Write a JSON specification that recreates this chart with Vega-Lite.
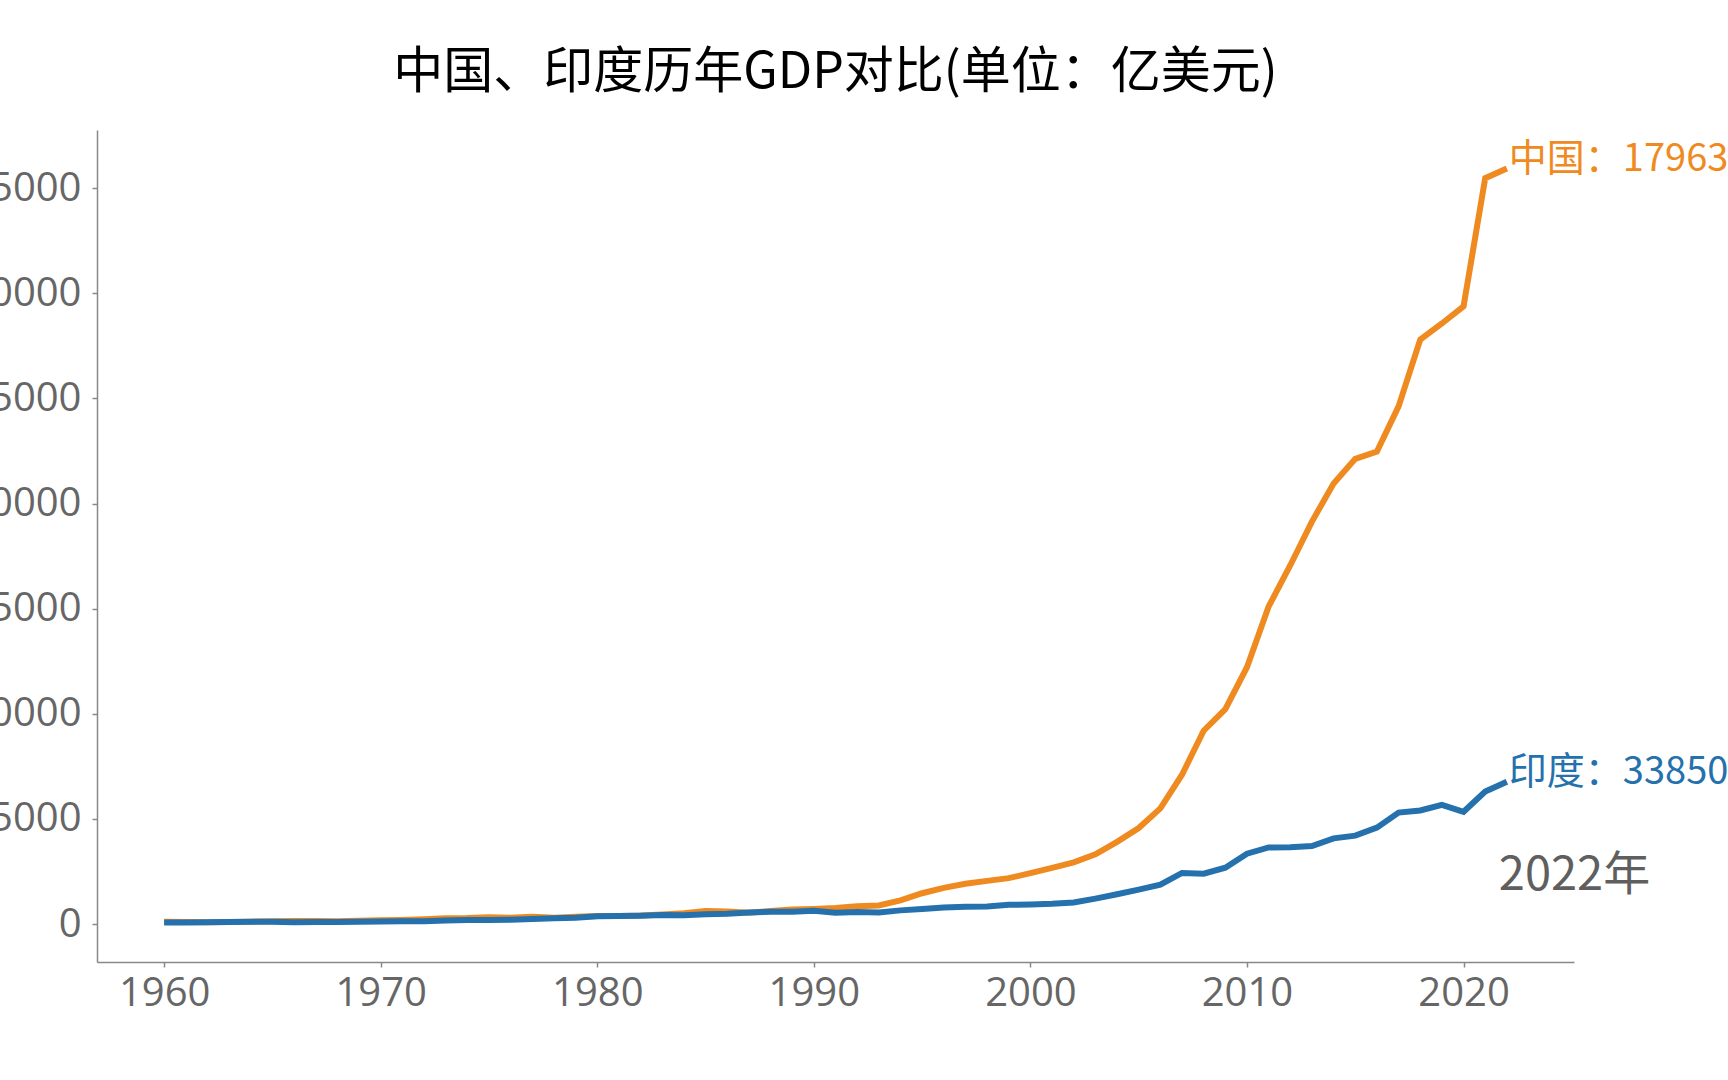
{
  "$schema": "https://vega.github.io/schema/vega-lite/v6.json",
  "autosize": {"type": "none"},
  "width": 1477,
  "height": 832,
  "padding": {"left": 97, "top": 130, "right": 154, "bottom": 118},
  "background": "white",
  "config": {
    "view": {"stroke": null},
    "axis": {
      "grid": false,
      "domainColor": "#888888",
      "domainWidth": 1.5,
      "tickColor": "#888888",
      "tickSize": 5,
      "tickWidth": 1.5,
      "labelColor": "#666666",
      "labelFont": "Open Sans",
      "labelFontSize": 40,
      "title": null
    }
  },
  "title": {
    "text": "中国、印度历年GDP对比(单位：亿美元)",
    "font": "Noto Sans CJK SC",
    "fontSize": 50,
    "fontWeight": "normal",
    "color": "#000000",
    "anchor": "middle",
    "baseline": "alphabetic",
    "offset": 41,
    "dy": 49
  },
  "datasets": {
    "gdp": [
      {"country": "中国", "year": 1960, "gdp": 597.2},
      {"country": "中国", "year": 1961, "gdp": 500.6},
      {"country": "中国", "year": 1962, "gdp": 472.1},
      {"country": "中国", "year": 1963, "gdp": 507.1},
      {"country": "中国", "year": 1964, "gdp": 594.5},
      {"country": "中国", "year": 1965, "gdp": 704.4},
      {"country": "中国", "year": 1966, "gdp": 767.2},
      {"country": "中国", "year": 1967, "gdp": 720.6},
      {"country": "中国", "year": 1968, "gdp": 699.9},
      {"country": "中国", "year": 1969, "gdp": 786.7},
      {"country": "中国", "year": 1970, "gdp": 926.0},
      {"country": "中国", "year": 1971, "gdp": 998.0},
      {"country": "中国", "year": 1972, "gdp": 1136.9},
      {"country": "中国", "year": 1973, "gdp": 1384.2},
      {"country": "中国", "year": 1974, "gdp": 1441.9},
      {"country": "中国", "year": 1975, "gdp": 1634.3},
      {"country": "中国", "year": 1976, "gdp": 1539.4},
      {"country": "中国", "year": 1977, "gdp": 1749.4},
      {"country": "中国", "year": 1978, "gdp": 1495.4},
      {"country": "中国", "year": 1979, "gdp": 1782.8},
      {"country": "中国", "year": 1980, "gdp": 1911.5},
      {"country": "中国", "year": 1981, "gdp": 1958.7},
      {"country": "中国", "year": 1982, "gdp": 2050.9},
      {"country": "中国", "year": 1983, "gdp": 2306.9},
      {"country": "中国", "year": 1984, "gdp": 2599.5},
      {"country": "中国", "year": 1985, "gdp": 3094.9},
      {"country": "中国", "year": 1986, "gdp": 3007.6},
      {"country": "中国", "year": 1987, "gdp": 2729.7},
      {"country": "中国", "year": 1988, "gdp": 3123.5},
      {"country": "中国", "year": 1989, "gdp": 3477.7},
      {"country": "中国", "year": 1990, "gdp": 3609.6},
      {"country": "中国", "year": 1991, "gdp": 3834.0},
      {"country": "中国", "year": 1992, "gdp": 4269.2},
      {"country": "中国", "year": 1993, "gdp": 4447.3},
      {"country": "中国", "year": 1994, "gdp": 5643.2},
      {"country": "中国", "year": 1995, "gdp": 7345.5},
      {"country": "中国", "year": 1996, "gdp": 8637.5},
      {"country": "中国", "year": 1997, "gdp": 9616.0},
      {"country": "中国", "year": 1998, "gdp": 10290.4},
      {"country": "中国", "year": 1999, "gdp": 10939.9},
      {"country": "中国", "year": 2000, "gdp": 12113.5},
      {"country": "中国", "year": 2001, "gdp": 13393.9},
      {"country": "中国", "year": 2002, "gdp": 14705.5},
      {"country": "中国", "year": 2003, "gdp": 16602.9},
      {"country": "中国", "year": 2004, "gdp": 19553.5},
      {"country": "中国", "year": 2005, "gdp": 22859.7},
      {"country": "中国", "year": 2006, "gdp": 27521.3},
      {"country": "中国", "year": 2007, "gdp": 35521.8},
      {"country": "中国", "year": 2008, "gdp": 45981.8},
      {"country": "中国", "year": 2009, "gdp": 51097.2},
      {"country": "中国", "year": 2010, "gdp": 61087.2},
      {"country": "中国", "year": 2011, "gdp": 75515.0},
      {"country": "中国", "year": 2012, "gdp": 85322.3},
      {"country": "中国", "year": 2013, "gdp": 95704.1},
      {"country": "中国", "year": 2014, "gdp": 104756.8},
      {"country": "中国", "year": 2015, "gdp": 110616.2},
      {"country": "中国", "year": 2016, "gdp": 112333.2},
      {"country": "中国", "year": 2017, "gdp": 123104.1},
      {"country": "中国", "year": 2018, "gdp": 138948.1},
      {"country": "中国", "year": 2019, "gdp": 142799.6},
      {"country": "中国", "year": 2020, "gdp": 146876.9},
      {"country": "中国", "year": 2021, "gdp": 177340.6},
      {"country": "中国", "year": 2022, "gdp": 179632.0},
      {"country": "印度", "year": 1960, "gdp": 370.3},
      {"country": "印度", "year": 1961, "gdp": 392.3},
      {"country": "印度", "year": 1962, "gdp": 421.6},
      {"country": "印度", "year": 1963, "gdp": 484.2},
      {"country": "印度", "year": 1964, "gdp": 564.8},
      {"country": "印度", "year": 1965, "gdp": 594.5},
      {"country": "印度", "year": 1966, "gdp": 459.6},
      {"country": "印度", "year": 1967, "gdp": 500.3},
      {"country": "印度", "year": 1968, "gdp": 530.9},
      {"country": "印度", "year": 1969, "gdp": 584.5},
      {"country": "印度", "year": 1970, "gdp": 624.2},
      {"country": "印度", "year": 1971, "gdp": 673.5},
      {"country": "印度", "year": 1972, "gdp": 711.6},
      {"country": "印度", "year": 1973, "gdp": 855.2},
      {"country": "印度", "year": 1974, "gdp": 991.3},
      {"country": "印度", "year": 1975, "gdp": 988.7},
      {"country": "印度", "year": 1976, "gdp": 1029.8},
      {"country": "印度", "year": 1977, "gdp": 1214.9},
      {"country": "印度", "year": 1978, "gdp": 1373.0},
      {"country": "印度", "year": 1979, "gdp": 1529.9},
      {"country": "印度", "year": 1980, "gdp": 1863.3},
      {"country": "印度", "year": 1981, "gdp": 1936.5},
      {"country": "印度", "year": 1982, "gdp": 2007.2},
      {"country": "印度", "year": 1983, "gdp": 2185.4},
      {"country": "印度", "year": 1984, "gdp": 2124.4},
      {"country": "印度", "year": 1985, "gdp": 2325.1},
      {"country": "印度", "year": 1986, "gdp": 2488.0},
      {"country": "印度", "year": 1987, "gdp": 2795.8},
      {"country": "印度", "year": 1988, "gdp": 2963.9},
      {"country": "印度", "year": 1989, "gdp": 2960.4},
      {"country": "印度", "year": 1990, "gdp": 3209.8},
      {"country": "印度", "year": 1991, "gdp": 2701.1},
      {"country": "印度", "year": 1992, "gdp": 2881.8},
      {"country": "印度", "year": 1993, "gdp": 2791.0},
      {"country": "印度", "year": 1994, "gdp": 3272.8},
      {"country": "印度", "year": 1995, "gdp": 3602.8},
      {"country": "印度", "year": 1996, "gdp": 3928.9},
      {"country": "印度", "year": 1997, "gdp": 4158.7},
      {"country": "印度", "year": 1998, "gdp": 4213.5},
      {"country": "印度", "year": 1999, "gdp": 4588.2},
      {"country": "印度", "year": 2000, "gdp": 4683.9},
      {"country": "印度", "year": 2001, "gdp": 4851.4},
      {"country": "印度", "year": 2002, "gdp": 5149.4},
      {"country": "印度", "year": 2003, "gdp": 6077.0},
      {"country": "印度", "year": 2004, "gdp": 7091.5},
      {"country": "印度", "year": 2005, "gdp": 8203.8},
      {"country": "印度", "year": 2006, "gdp": 9402.6},
      {"country": "印度", "year": 2007, "gdp": 12167.4},
      {"country": "印度", "year": 2008, "gdp": 11989.0},
      {"country": "印度", "year": 2009, "gdp": 13419.0},
      {"country": "印度", "year": 2010, "gdp": 16756.2},
      {"country": "印度", "year": 2011, "gdp": 18230.5},
      {"country": "印度", "year": 2012, "gdp": 18276.4},
      {"country": "印度", "year": 2013, "gdp": 18567.2},
      {"country": "印度", "year": 2014, "gdp": 20391.3},
      {"country": "印度", "year": 2015, "gdp": 21035.9},
      {"country": "印度", "year": 2016, "gdp": 22947.9},
      {"country": "印度", "year": 2017, "gdp": 26515.0},
      {"country": "印度", "year": 2018, "gdp": 27026.9},
      {"country": "印度", "year": 2019, "gdp": 28355.6},
      {"country": "印度", "year": 2020, "gdp": 26717.3},
      {"country": "印度", "year": 2021, "gdp": 31502.9},
      {"country": "印度", "year": 2022, "gdp": 33851.3}
    ],
    "labels": [
      {"country": "中国", "year": 2022, "gdp": 179632.0, "label": "中国：179632"},
      {"country": "印度", "year": 2022, "gdp": 33851.3, "label": "印度：33850"}
    ]
  },
  "layer": [
    {
      "data": {"name": "gdp"},
      "mark": {"type": "line", "strokeWidth": 6, "strokeJoin": "miter", "strokeCap": "butt"},
      "encoding": {
        "x": {
          "field": "year", "type": "quantitative",
          "scale": {"domain": [1956.9, 2025.1], "nice": false, "zero": false},
          "axis": {"values": [1960, 1970, 1980, 1990, 2000, 2010, 2020], "format": "d", "labelPadding": 6}
        },
        "y": {
          "field": "gdp", "type": "quantitative",
          "scale": {"domain": [-9000, 188800], "nice": false, "zero": false},
          "axis": {"values": [0, 25000, 50000, 75000, 100000, 125000, 150000, 175000], "format": "d", "labelPadding": 11}
        },
        "color": {
          "field": "country", "type": "nominal",
          "scale": {"domain": ["中国", "印度"], "range": ["#ef8a20", "#2471ad"]},
          "legend": null
        }
      }
    },
    {
      "data": {"name": "labels"},
      "mark": {"type": "text", "align": "left", "baseline": "alphabetic", "dx": 2, "dy": 2, "font": "Noto Sans CJK SC", "fontSize": 38},
      "encoding": {
        "x": {"field": "year", "type": "quantitative"},
        "y": {"field": "gdp", "type": "quantitative"},
        "text": {"field": "label"},
        "color": {"field": "country", "type": "nominal", "legend": null}
      }
    },
    {
      "data": {"values": [{"label": "2022年"}]},
      "mark": {"type": "text", "align": "left", "baseline": "alphabetic", "dx": -8, "font": "Noto Sans CJK SC", "fontSize": 47, "color": "#5f5f5f"},
      "encoding": {
        "x": {"datum": 2022, "type": "quantitative"},
        "y": {"datum": 8100, "type": "quantitative"},
        "text": {"field": "label"}
      }
    }
  ]
}
